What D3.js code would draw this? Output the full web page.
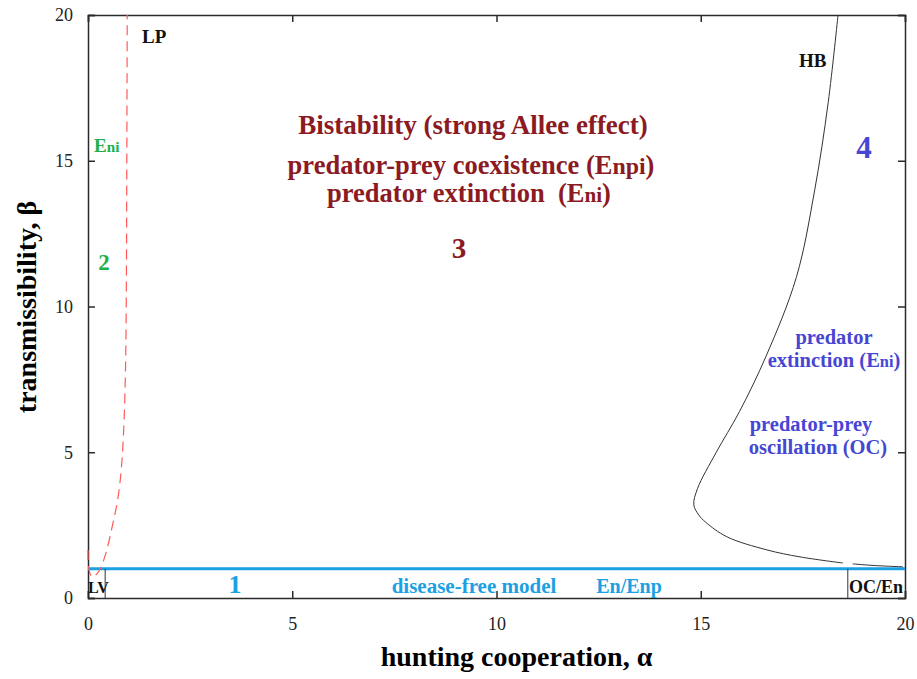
<!DOCTYPE html>
<html>
<head>
<meta charset="utf-8">
<script src="https://cdn.jsdelivr.net/npm/d3@7"></script>
<style>
  body { margin: 0; background: #fff; }
  svg text { font-family: "Liberation Serif", "Times New Roman", serif; white-space: pre; }
  .axis path, .axis line { stroke: #2a2a2a; stroke-width: 1.5; }
  .axis text { font-size: 18px; fill: #222; font-family: "Liberation Serif", serif; }
</style>
</head>
<body>
<div id="chart"></div>
<script>
// axis ticks
var xTicks = [0, 5, 10, 15, 20];
var yTicks = [0, 5, 10, 15, 20];

// LP curve (red dashed), alpha / beta
var lpAlpha = [0, 0.02, 0.1, 0.2, 0.3, 0.45, 0.6, 0.73, 0.82, 0.88, 0.92, 0.94, 0.95, 0.96];
var lpBeta = [1.65, 1.0, 0.72, 0.8, 1.0, 1.6, 2.5, 3.4, 4.5, 6, 8, 11, 15, 20];

// HB curve (black), split where it is broken near the right divider
var hbAlpha = [18.36, 18.12, 17.79, 17.34, 16.6, 15.95, 15.38, 14.92, 14.83, 14.95, 15.12, 15.64, 16.62, 17.43, 18.48];
var hbBeta = [20, 17, 14, 11, 8.3, 6.4, 5, 3.75, 3.2, 2.85, 2.6, 2.1, 1.65, 1.41, 1.2];
var hbTailAlpha = [18.72, 19.3, 19.95];
var hbTailBeta = [1.17, 1.11, 1.07];

// disease-free boundary and the small dividers below it
var diseaseFreeBeta = 1;
var dividerAlpha = [0.42, 18.6];

var svgWidth = 917, svgHeight = 679;
var margin = { top: 15, right: 12, bottom: 81, left: 88 };
var width = svgWidth - margin.left - margin.right;
var height = svgHeight - margin.top - margin.bottom;

var svg = d3.select("#chart").append("svg")
  .attr("width", svgWidth)
  .attr("height", svgHeight);
var chart = svg.append("g")
  .attr("transform", `translate(${margin.left}, ${margin.top})`);

var x = d3.scaleLinear().domain([0, 20]).range([0, width]);
var y = d3.scaleLinear().domain([0, 20]).range([height, 0]);

// axes, ticks pointing inward on every side
chart.append("g").attr("class", "axis")
  .attr("transform", `translate(0,${height})`)
  .call(d3.axisBottom(x).tickValues(xTicks).tickSize(-7).tickPadding(19));
chart.append("g").attr("class", "axis")
  .call(d3.axisLeft(y).tickValues(yTicks).tickSize(-7).tickPadding(15));
chart.append("g").attr("class", "axis")
  .call(d3.axisTop(x).tickValues(xTicks).tickSize(-7).tickFormat(""));
chart.append("g").attr("class", "axis")
  .attr("transform", `translate(${width},0)`)
  .call(d3.axisRight(y).tickValues(yTicks).tickSize(-7).tickFormat(""));

// disease-free line
chart.append("line")
  .attr("x1", x(0)).attr("x2", x(20))
  .attr("y1", y(diseaseFreeBeta)).attr("y2", y(diseaseFreeBeta))
  .attr("stroke", "#1ba1e3").attr("stroke-width", 3);

chart.selectAll(".divider").data(dividerAlpha).enter()
  .append("line")
  .attr("x1", d => x(d)).attr("x2", d => x(d))
  .attr("y1", y(diseaseFreeBeta)).attr("y2", y(0))
  .attr("stroke", "#333").attr("stroke-width", 1);

// curves
var line = d3.line()
  .x(d => x(d[0]))
  .y(d => y(d[1]))
  .curve(d3.curveCatmullRom.alpha(0.5));

chart.append("path")
  .datum(lpAlpha.map((a, i) => [a, lpBeta[i]]))
  .attr("d", line)
  .attr("fill", "none")
  .attr("stroke", "#ff5a5a")
  .attr("stroke-width", 1.2)
  .attr("stroke-dasharray", "10,6");

[[hbAlpha, hbBeta], [hbTailAlpha, hbTailBeta]].forEach(seg => {
  chart.append("path")
    .datum(seg[0].map((a, i) => [a, seg[1][i]]))
    .attr("d", line)
    .attr("fill", "none")
    .attr("stroke", "#333")
    .attr("stroke-width", 1);
});

// annotations; parts are [text, relative size]
function label(parts, px, py, size, color, anchor) {
  var t = svg.append("text")
    .attr("x", px).attr("y", py)
    .attr("font-size", size + "px")
    .attr("font-weight", "bold")
    .attr("fill", color)
    .attr("text-anchor", anchor || "middle");
  if (typeof parts === "string") parts = [[parts, 1]];
  parts.forEach(p => t.append("tspan").attr("font-size", (size * p[1]) + "px").text(p[0]));
  return t;
}
var red = "#8c1a22", green = "#22b04a", violet = "#4646d4", sky = "#1ba1e3";

label("LP", 142, 43, 19, "#111", "start");
label("HB", 799, 67, 19, "#111", "start");
label("LV", 88, 593, 16, "#111", "start");
label("OC/En", 849, 593, 18, "#111", "start");

label([["E", 1], ["ni", 0.8]], 94, 152, 19, green, "start");
label("2", 104, 270, 23, green);

label("Bistability (strong Allee effect)", 473, 134, 27, red);
label([["predator-prey coexistence (E", 1], ["npi", 0.9], [")", 1]], 471, 174, 26.5, red);
label([["predator extinction  (E", 1], ["ni", 0.8], [")", 1]], 469, 202, 26.5, red);
label("3", 459, 258, 29, red);

label("4", 864, 158, 31, violet);
label("predator", 834, 344, 20.5, violet);
label([["extinction (E", 1], ["ni", 0.8], [")", 1]], 834, 367, 20.5, violet);
label("predator-prey", 811, 431, 20.5, violet);
label("oscillation (OC)", 818, 454, 20.5, violet);

label("1", 235, 593, 26, sky);
label("disease-free model", 474, 593, 21, sky);
label("En/Enp", 629, 593, 20, sky);

// axis titles
svg.append("text")
  .attr("x", margin.left + width / 2 + 20).attr("y", 666)
  .attr("text-anchor", "middle")
  .attr("font-size", "28px").attr("font-weight", "bold")
  .text("hunting cooperation, α");
svg.append("text")
  .attr("transform", `translate(36, 307) rotate(-90)`)
  .attr("text-anchor", "middle")
  .attr("font-size", "28px").attr("font-weight", "bold")
  .text("transmissibility, β");
</script>
</body>
</html>
